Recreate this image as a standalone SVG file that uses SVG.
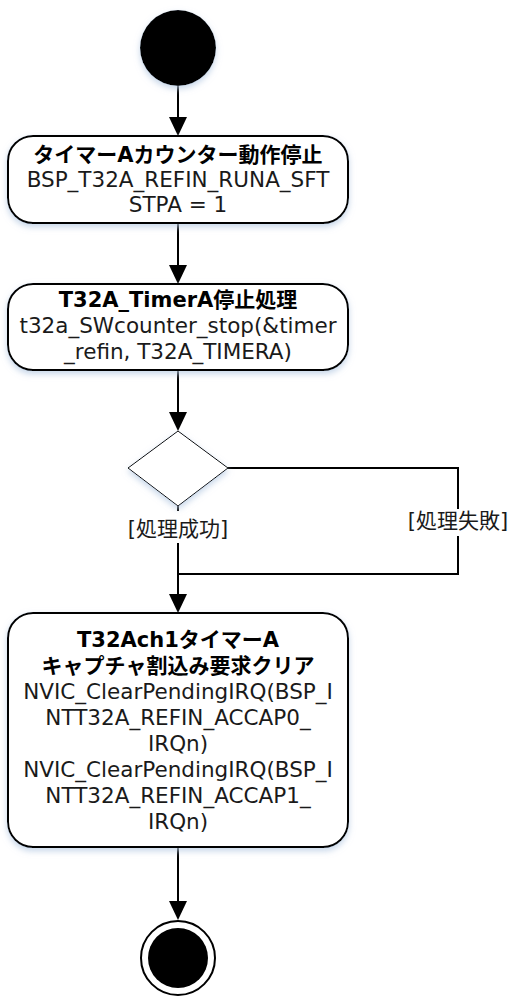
<svg xmlns="http://www.w3.org/2000/svg" width="510" height="997" viewBox="0 0 510 997">
<style>
.box{fill:#fff;stroke:#000;stroke-width:2}
.dia{fill:#fff;stroke:#000;stroke-width:1}
.t{font-family:"DejaVu Sans","Noto Sans CJK JP",sans-serif;font-size:21.5px;fill:#1a1a1a;text-anchor:middle}
.b{font-weight:bold;fill:#000;font-size:21px}
.l{font-size:21px}
.c{fill:none;stroke:#000;stroke-width:2}
</style>
<defs>
<filter id="sh" x="-10%" y="-10%" width="120%" height="130%">
<feDropShadow dx="0" dy="3" stdDeviation="3" flood-color="#b8cce4" flood-opacity="0.8"/>
</filter>
</defs>
<g id="connectors">
<line class="c" x1="178" y1="86" x2="178" y2="120"/>
<line class="c" x1="178" y1="223" x2="178" y2="268"/>
<line class="c" x1="178" y1="370" x2="178" y2="415"/>
<line class="c" x1="178" y1="506" x2="178" y2="597"/>
<polyline class="c" points="228,468 458,468 458,574 178,574"/>
<line class="c" x1="178" y1="847" x2="178" y2="904"/>
<path d="M169,117 L187,117 L178,136 Z"/>
<path d="M169,265 L187,265 L178,284 Z"/>
<path d="M169,412 L187,412 L178,431 Z"/>
<path d="M169,594 L187,594 L178,613 Z"/>
<path d="M169,901 L187,901 L178,920 Z"/>
<rect x="126" y="511" width="104" height="32" fill="#fff"/>
<text class="t l" x="178" y="536">[処理成功]</text>
<rect x="406" y="509" width="104" height="27" fill="#fff"/>
<text class="t l" x="458" y="528">[処理失敗]</text>
</g>
<g id="start">
<circle cx="178" cy="48" r="38" fill="#000" filter="url(#sh)"/>
</g>
<g id="node1">
<rect class="box" x="8" y="136" width="340" height="87" rx="25" filter="url(#sh)"/>
<text class="t b" x="178" y="162">タイマーAカウンター動作停止</text>
<text class="t" x="178" y="187">BSP_T32A_REFIN_RUNA_SFT</text>
<text class="t" x="178" y="212">STPA = 1</text>
</g>
<g id="node2">
<rect class="box" x="8" y="284" width="340" height="86" rx="25" filter="url(#sh)"/>
<text class="t b" x="178" y="307">T32A_TimerA停止処理</text>
<text class="t" x="178" y="333">t32a_SWcounter_stop(&amp;timer</text>
<text class="t" x="178" y="359">_refin, T32A_TIMERA)</text>
</g>
<g id="decision">
<polygon class="dia" points="178,431 228,468 178,506 128,468" filter="url(#sh)"/>
</g>
<g id="node3">
<rect class="box" x="8" y="613" width="340" height="234" rx="25" filter="url(#sh)"/>
<text class="t b" x="178" y="647">T32Ach1タイマーA</text>
<text class="t b" x="178" y="673">キャプチャ割込み要求クリア</text>
<text class="t" x="178" y="699">NVIC_ClearPendingIRQ(BSP_I</text>
<text class="t" x="178" y="725">NTT32A_REFIN_ACCAP0_</text>
<text class="t" x="178" y="751">IRQn)</text>
<text class="t" x="178" y="777">NVIC_ClearPendingIRQ(BSP_I</text>
<text class="t" x="178" y="803">NTT32A_REFIN_ACCAP1_</text>
<text class="t" x="178" y="829">IRQn)</text>
</g>
<g id="end">
<circle cx="178" cy="958" r="37" fill="#fff" stroke="#000" stroke-width="2"/>
<circle cx="178" cy="958" r="30" fill="#000"/>
</g>
</svg>
